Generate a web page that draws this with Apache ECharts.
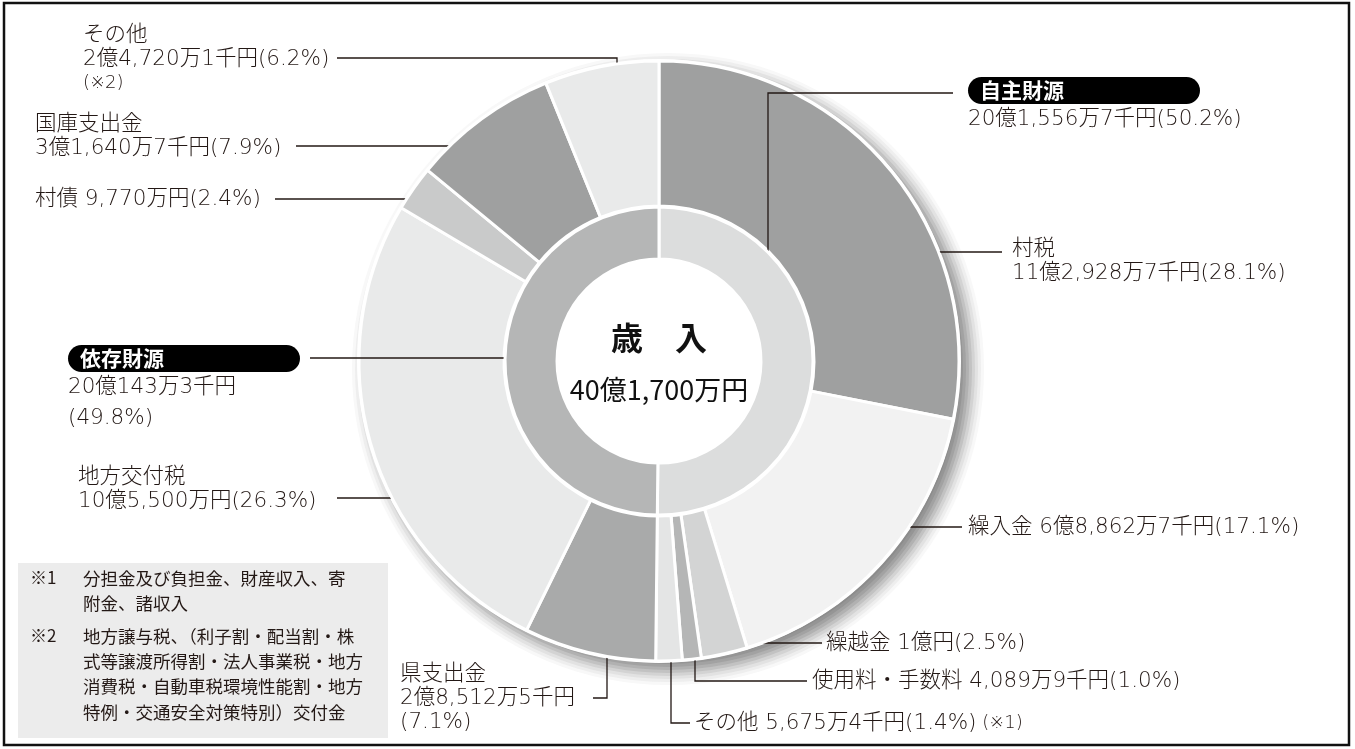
<!DOCTYPE html>
<html><head><meta charset="utf-8">
<script src="https://cdn.jsdelivr.net/npm/echarts@6/dist/echarts.min.js"></script>
<style>html,body{margin:0;padding:0;background:#fff}#c{width:1355px;height:749px}</style>
</head><body><div id="c"></div>
<script>
// ---- data (values in 千円) ----
const centerTitle = '歳　入';
const innerNames = ['自主財源', '依存財源'];
const innerValues = [2015567, 2001433];
const outerNames = ['村税', '繰入金', '繰越金', '使用料・手数料', 'その他', '県支出金', '地方交付税', '村債', '国庫支出金', 'その他'];
const outerValues = [1129287, 688627, 100000, 40899, 56754, 285125, 1055000, 97700, 316407, 247201];
const outerNotes = ['', '', '', '', '(※1)', '', '', '', '', '(※2)'];
const noteMarks = ['※1', '', '※2', '', '', ''];
const noteLines = [
  '分担金及び負担金、財産収入、寄',
  '附金、諸収入',
  '地方譲与税、（利子割・配当割・株',
  '式等譲渡所得割・法人事業税・地方',
  '消費税・自動車税環境性能割・地方',
  '特例・交通安全対策特別）交付金'
];

// ---- styles / layout ----
const outerColors = ['#9fa0a0', '#f2f2f2', '#d3d4d4', '#b5b6b6', '#e4e5e5', '#a9aaaa', '#e9eaea', '#c9caca', '#9fa0a0', '#e9eaea'];
const innerColors = ['#dcdddd', '#b5b6b6'];
const outerForm = ['stack', 'one', 'one', 'one', 'oneNote', 'three', 'stack', 'one', 'stack', 'stackNote'];
const outerLabelLayout = [
  {x: 1012, y: 237, line: [[917, 252], [1002, 252]]},
  {x: 968, y: 515, line: [[886, 527], [962, 527]]},
  {x: 826, y: 631, line: [[723, 643], [822, 643]]},
  {x: 812, y: 669, line: [[695, 650], [695, 681], [807, 681]]},
  {x: 694, y: 711, line: [[671, 649], [671, 723], [690, 723]]},
  {x: 400, y: 662, line: [[607, 642], [607, 698], [593, 698]]},
  {x: 78, y: 465, line: [[337, 498], [415, 498]]},
  {x: 35, y: 187, line: [[275, 199], [425, 199]]},
  {x: 35, y: 112, line: [[296, 146], [483, 146]]},
  {x: 83, y: 23, line: [[337, 58], [617, 58], [617, 87]]}
];
const innerLabelLayout = [
  {x: 968, y: 77, line: [[768, 292], [768, 93], [953, 93]]},
  {x: 68, y: 345, line: [[310, 358], [533, 358]]}
];
const CX = 659, CY = 361, R_OUT = 300;
const SH_DX = 9, SH_DY = 8;
// stepped soft shadow: [radius offset from R_OUT, colour], outermost first
const shadowSteps = [[16, '#f8f8f8'], [13, '#eeeeee'], [10, '#e2e2e2'], [7, '#d3d3d3'], [4, '#c2c2c2'], [1, '#b1b1b1'], [-2, '#a2a2a2'], [-5, '#959595'], [-8, '#8c8c8c']];
const FONT = "'DejaVu Sans', 'Noto Sans CJK JP', sans-serif";
const CJK = "'Noto Sans CJK JP', sans-serif";
const TXT = '#231815';

const total = outerValues.reduce((a, b) => a + b, 0);
function yen(v) {
  const oku = Math.floor(v / 100000), man = Math.floor((v % 100000) / 10), sen = v % 10;
  let s = '';
  if (oku) s += oku + '億';
  if (man) s += man.toLocaleString('en-US') + '万';
  if (sen) s += sen + '千';
  return s + '円';
}
function pct(v) { return (v / total * 100).toFixed(1) + '%'; }

const rich = {
  t: {fontSize: 21.5, lineHeight: 24, color: TXT, fontFamily: FONT, fontWeight: 200},
  s: {fontSize: 18, lineHeight: 24, color: TXT, fontFamily: FONT, fontWeight: 200},
  pill: {fontSize: 21, fontWeight: 'bold', color: '#fff', fontFamily: CJK, backgroundColor: '#000',
         width: 220, height: 27, lineHeight: 27, borderRadius: 14, padding: [0, 0, 0, 12]},
  v: {fontSize: 21.5, lineHeight: 31, color: TXT, fontFamily: FONT, fontWeight: 200}
};

function outerFormatter(p) {
  const i = p.dataIndex, n = outerNames[i], v = outerValues[i];
  const a = yen(v), c = '(' + pct(v) + ')';
  switch (outerForm[i]) {
    case 'stack': return '{t|' + n + '}\n{t|' + a + c + '}';
    case 'one': return '{t|' + n + ' ' + a + c + '}';
    case 'oneNote': return '{t|' + n + ' ' + a + c + '}{s| ' + outerNotes[i] + '}';
    case 'three': return '{t|' + n + '}\n{t|' + a + '}\n{t|' + c + '}';
    case 'stackNote': return '{t|' + n + '}\n{t|' + a + c + '}\n{s|' + outerNotes[i] + '}';
  }
}
function innerFormatter(p) {
  const i = p.dataIndex, v = innerValues[i];
  if (i === 0) return '{pill|' + innerNames[i] + '}\n{v|' + yen(v) + '(' + pct(v) + ')}';
  return '{pill|' + innerNames[i] + '}\n{v|' + yen(v) + '}\n{v|(' + pct(v) + ')}';
}

const chart = echarts.init(document.getElementById('c'), null, {renderer: 'canvas'});
const notesGraphic = [];
noteLines.forEach((line, k) => {
  const ys = [578, 603, 636, 661, 686, 712];
  if (noteMarks[k]) notesGraphic.push({type: 'text', x: 30, y: ys[k], style: {text: noteMarks[k], font: "17px " + CJK, fill: TXT, textVerticalAlign: 'middle'}});
  notesGraphic.push({type: 'text', x: 83, y: ys[k], style: {text: line, font: "17.5px " + CJK, fill: TXT, textVerticalAlign: 'middle'}});
});

const shadowSeries = shadowSteps.map(([dr, col]) => ({
  type: 'pie', z: 0, silent: true, center: [CX + SH_DX, CY + SH_DY], radius: [0, R_OUT + dr],
  label: {show: false}, labelLine: {show: false}, emphasis: {disabled: true},
  itemStyle: {color: col, borderWidth: 0},
  data: [{value: 1}]
}));

chart.setOption({
  animation: false,
  backgroundColor: '#fff',
  graphic: [
    {type: 'rect', z: 0, shape: {x: 18, y: 563, width: 370, height: 175}, style: {fill: '#ececec'}},
    {type: 'group', z: 1, children: notesGraphic},
    {type: 'text', z: 10, x: CX, y: 338, style: {text: centerTitle, font: "bold 32px " + CJK, fill: '#111', textAlign: 'center', textVerticalAlign: 'middle'}},
    {type: 'text', z: 10, x: CX, y: 390, style: {text: yen(total), font: "27px " + CJK, fill: '#111', textAlign: 'center', textVerticalAlign: 'middle'}},
    {type: 'rect', z: 20, shape: {x: 4, y: 3, width: 1345, height: 742}, style: {fill: 'none', stroke: '#111', lineWidth: 2.5}}
  ],
  series: shadowSeries.concat([
    {
      type: 'pie', z: 1, silent: true, center: [CX, CY], radius: [0, R_OUT + 2],
      label: {show: false}, labelLine: {show: false}, emphasis: {disabled: true},
      itemStyle: {color: '#fff', borderWidth: 0},
      data: [{value: 1}]
    },
    {
      type: 'pie', z: 2, silent: true, center: [CX, CY], radius: [155, R_OUT], startAngle: 90, clockwise: true,
      avoidLabelOverlap: false,
      itemStyle: {borderColor: '#fff', borderWidth: 3},
      label: {show: true, position: 'outside', formatter: outerFormatter, rich: rich, width: 500, overflow: 'none', alignTo: 'none'},
      labelLine: {show: true, smooth: false, lineStyle: {color: '#231815', width: 1.3}},
      labelLayout: function (p) {
        const L = outerLabelLayout[p.dataIndex];
        return {x: L.x, y: L.y, align: 'left', verticalAlign: 'top', labelLinePoints: L.line};
      },
      data: outerValues.map((v, i) => ({name: outerNames[i] + i, value: v, itemStyle: {color: outerColors[i]}}))
    },
    {
      type: 'pie', z: 3, silent: true, center: [CX, CY], radius: [102, 154], startAngle: 90, clockwise: true,
      avoidLabelOverlap: false,
      itemStyle: {borderColor: '#fff', borderWidth: 3},
      label: {show: true, position: 'outside', formatter: innerFormatter, rich: rich, width: 500, overflow: 'none', alignTo: 'none'},
      labelLine: {show: true, smooth: false, lineStyle: {color: '#231815', width: 1.3}},
      labelLayout: function (p) {
        const L = innerLabelLayout[p.dataIndex];
        return {x: L.x, y: L.y, align: 'left', verticalAlign: 'top', labelLinePoints: L.line};
      },
      data: innerValues.map((v, i) => ({name: innerNames[i], value: v, itemStyle: {color: innerColors[i]}}))
    }
  ])
});
</script>
</body></html>
